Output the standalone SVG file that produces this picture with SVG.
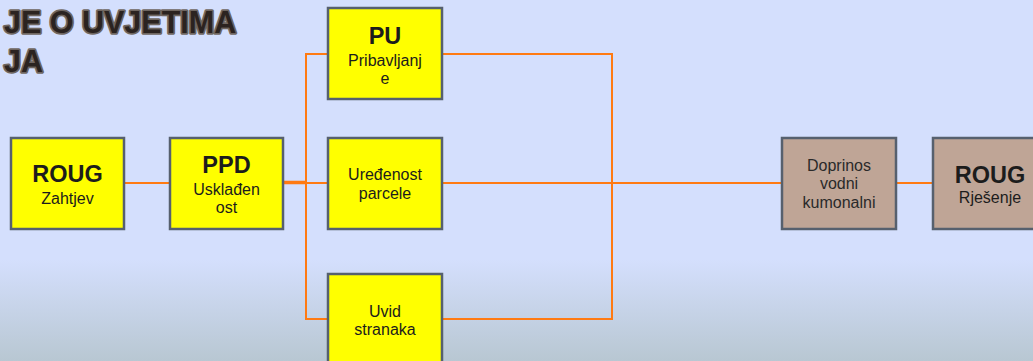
<svg xmlns="http://www.w3.org/2000/svg" width="1033" height="361" viewBox="0 0 1033 361">
  <defs>
    <linearGradient id="bg" x1="0" y1="0" x2="0" y2="1">
      <stop offset="0" stop-color="#d4dffd"/>
      <stop offset="0.72" stop-color="#d4dffd"/>
      <stop offset="1" stop-color="#b8c7d2"/>
    </linearGradient>
    <style>
      .box { stroke: #56606e; stroke-width: 2.5; }
      .y { fill: #ffff00; }
      .b { fill: #bfa596; }
      .t { font-family: "Liberation Sans", Arial, sans-serif; fill: #1c1c1c; text-anchor: middle; }
      .h { font-size: 23.5px; font-weight: bold; }
      .s { font-size: 16px; }
      .c { stroke: #ff7a12; stroke-width: 2; fill: none; }
      .title { font-family: "Liberation Sans", Arial, sans-serif; font-size: 30.5px; font-weight: bold; fill: #2b2320; stroke: #6f6660; stroke-width: 3.5; paint-order: stroke; stroke-linejoin: round; }
    </style>
  </defs>
  <rect x="0" y="0" width="1033" height="361" fill="url(#bg)"/>

  <g id="title">
    <text class="title" x="4" y="33">JE O UVJETIMA</text>
    <text class="title" x="4" y="72">JA</text>
  </g>

  <g id="connectors">
    <line class="c" x1="124" y1="183" x2="170" y2="183"/>
    <line class="c" x1="283" y1="182.5" x2="306" y2="182.5" style="stroke-width:3.5"/>
    <line class="c" x1="306" y1="183" x2="328" y2="183"/>
    <polyline class="c" points="328,54 306,54 306,319 328,319"/>
    <polyline class="c" points="442,54 612,54 612,319 442,319"/>
    <line class="c" x1="442" y1="183" x2="782" y2="183"/>
    <line class="c" x1="896" y1="183" x2="933" y2="183"/>
  </g>

  <g id="roug-zahtjev">
    <rect class="box y" x="11" y="138" width="113" height="91"/>
    <text class="t h" x="67.5" y="182">ROUG</text>
    <text class="t s" x="67.5" y="204">Zahtjev</text>
  </g>

  <g id="ppd">
    <rect class="box y" x="170" y="138" width="113" height="91"/>
    <text class="t h" x="226.5" y="173">PPD</text>
    <text class="t s" x="226.5" y="195">Usklađen</text>
    <text class="t s" x="226.5" y="213">ost</text>
  </g>

  <g id="pu">
    <rect class="box y" x="328" y="8" width="114" height="91"/>
    <text class="t h" x="385" y="44">PU</text>
    <text class="t s" x="385" y="66">Pribavljanj</text>
    <text class="t s" x="385" y="84">e</text>
  </g>

  <g id="uredenost">
    <rect class="box y" x="328" y="138" width="114" height="91"/>
    <text class="t s" x="385" y="180">Uređenost</text>
    <text class="t s" x="385" y="199">parcele</text>
  </g>

  <g id="uvid">
    <rect class="box y" x="328" y="274" width="114" height="92"/>
    <text class="t s" x="385" y="317">Uvid</text>
    <text class="t s" x="385" y="335">stranaka</text>
  </g>

  <g id="doprinos">
    <rect class="box b" x="782" y="138" width="114" height="91"/>
    <text class="t s" x="839" y="170.5" style="fill:#2a2a2a">Doprinos</text>
    <text class="t s" x="839" y="189" style="fill:#2a2a2a">vodni</text>
    <text class="t s" x="839" y="208" style="fill:#2a2a2a">kumonalni</text>
  </g>

  <g id="roug-rjesenje">
    <rect class="box b" x="933" y="138" width="114" height="91"/>
    <text class="t h" x="990" y="183">ROUG</text>
    <text class="t s" x="990" y="203">Rješenje</text>
  </g>
</svg>
